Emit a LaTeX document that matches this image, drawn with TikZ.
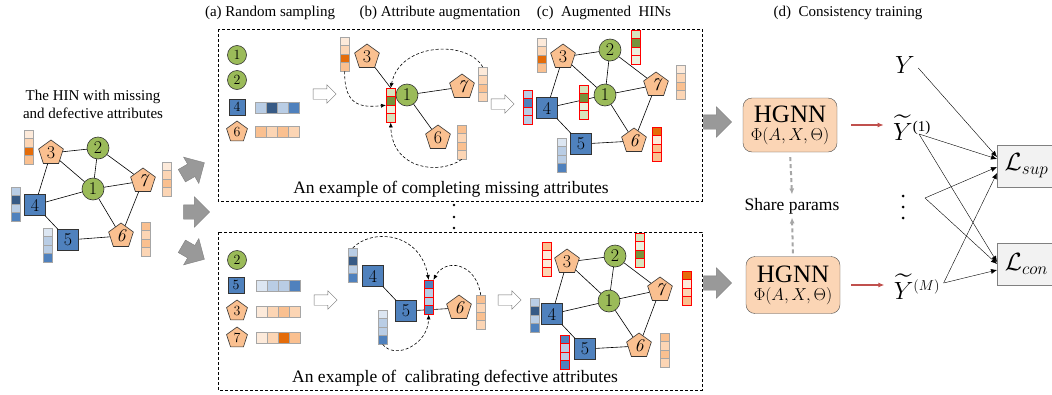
\documentclass[tikz,border=0pt]{standalone}
\usepackage{amssymb,mathtools}
\usepackage{fontspec}
\setmainfont{Liberation Serif}
\newfontfamily\lmfont{Latin Modern Roman}
\usetikzlibrary{shapes.geometric,shapes.arrows,arrows.meta,calc}

\definecolor{ngreen}{HTML}{9BBB59}
\definecolor{nblue}{HTML}{4F81BD}
\definecolor{norange}{HTML}{FAC090}
\definecolor{or1}{HTML}{FDEADA}
\definecolor{or2}{HTML}{FCD5B4}
\definecolor{or3}{HTML}{FAC090}
\definecolor{or4}{HTML}{E46C0A}
\definecolor{bl1}{HTML}{DCE6F2}
\definecolor{bl2}{HTML}{B9CDE5}
\definecolor{bl3}{HTML}{4F81BD}
\definecolor{bl4}{HTML}{375A85}
\definecolor{gr1}{HTML}{EBF1DE}
\definecolor{gr2}{HTML}{D7E4BD}
\definecolor{gr3}{HTML}{77933C}
\definecolor{hgnnfill}{HTML}{FBD5B5}
\definecolor{redarr}{HTML}{C0504D}

% attribute vectors: name, x, y (top left), cell colours, frame style
\newcommand{\attrv}[5]{%
  \foreach \c [count=\i from 0] in {#4}
    \draw[#5, fill=\c] (#2,#3+\i*8.5) rectangle +(9,8.5);
  \node[inner sep=0pt, minimum width=9, minimum height=34, anchor=north west] (#1) at (#2,#3) {};
}
\newcommand{\attrh}[5]{%
  \foreach \c [count=\i from 0] in {#4}
    \draw[#5, fill=\c] (#2+\i*11,#3) rectangle +(11,11);
  \node[inner sep=0pt, minimum width=44, minimum height=11, anchor=north west] (#1) at (#2,#3) {};
}
\newcommand{\supsize}[1]{\mbox{\fontsize{15}{15}\selectfont#1}}

\begin{document}
\begin{tikzpicture}[x=1pt, y=-1pt, >={Latex[length=6pt,width=5pt]},
  hin/.style={draw=black!80, line width=0.6pt, inner sep=0pt, font=\lmfont\fontsize{18}{18}\selectfont},
  gnode/.style={hin, circle, fill=ngreen, minimum size=22},
  bnode/.style={hin, fill=nblue, minimum size=21},
  onode/.style={hin, regular polygon, regular polygon sides=5, fill=norange, minimum size=26},
  lnode/.style={font=\lmfont\fontsize{14}{14}\selectfont},
  gbar/.style={draw=black!35, line width=0.6pt},
  rbar/.style={draw=red, line width=0.6pt},
  edge/.style={line width=0.6pt},
  caption/.style={font=\fontsize{15}{18}\selectfont},
  bigtext/.style={font=\fontsize{17.5}{20}\selectfont},
  fatarrow/.style={single arrow, fill=black!40, draw=black!50, inner sep=7pt, single arrow head extend=8pt, minimum height=26},
  hollow/.style={single arrow, fill=white, draw=black!55, inner sep=5pt, single arrow head extend=4pt, minimum height=23},
  panel/.style={dash pattern=on 3pt off 2pt, line width=0.6pt},
  augm/.style={->, >={Latex[length=5pt,width=4pt]}, dash pattern=on 3pt off 2pt, line width=0.6pt},
  mathbig/.style={font=\fontsize{30}{32}\selectfont},
  hgnn/.style={draw=black!70, fill=hgnnfill, rounded corners=9, minimum width=94, align=center, inner sep=2pt}
]
\useasboundingbox (0,0) rectangle (1052,394);

% the input HIN
\node[caption, align=center] (title) at (93,104) {The HIN with missing\\and defective attributes};
\node[gnode] (a1) at (93,189) {1};
\node[gnode] (a2) at (98,148) {2};
\node[onode] (a3) at (51,153) {3};
\node[bnode] (a4) at (35,205) {4};
\node[bnode] (a5) at (68,240) {5};
\node[onode] (a6) at (121,236) {\itshape 6};
\node[onode] (a7) at (143,181) {\itshape 7};
\foreach \u/\v in {3/2,2/7,2/1,3/1,3/4,1/4,1/7,1/6,7/6,4/5,5/6}
  \draw[edge] (a\u) -- (a\v);
\attrv{la3}{24}{130}{or1,or2,or4,or3}{gbar}
\attrv{la4}{11}{187}{bl2,bl4,bl2,bl3}{gbar}
\attrv{la5}{43}{228}{bl1,bl2,bl2,bl3}{gbar}
\attrv{la7}{162}{162}{or1,or2,or3,or2}{gbar}
\attrv{la6}{141}{222}{or3,or2,or3,or2}{gbar}
\node[fatarrow, rotate=30] (ga1) at (190,171) {};
\node[fatarrow] (ga2) at (193,212) {};
\node[fatarrow, rotate=-30] (ga3) at (190,251) {};

% panels
\node[caption] (laba) at (270,13) {(a) Random sampling};
\node[caption] (labb) at (440,13) {(b) Attribute augmentation};
\node[caption] (labc) at (604,13) {(c)~~Augmented~~HINs};
\node[caption] (labd) at (848,13) {(d)~~Consistency training};
\draw[panel] (218,29) rectangle (702,201);
\draw[panel] (218,232) rectangle (702,390);
\foreach \yy in {205,217,228}
  \fill (454,\yy) circle[radius=1.3];

% top: completing missing attributes
\node[gnode, lnode, minimum size=19] (p1) at (237,55) {1};
\node[gnode, lnode, minimum size=19] (p2) at (237,80) {2};
\node[bnode, lnode, minimum size=16] (p4) at (237,107) {4};
\node[onode, lnode, minimum size=22] (p6) at (237,132) {6};
\attrh{ph4}{255}{102}{bl2,bl4,bl2,bl3}{gbar}
\attrh{ph6}{255}{126}{or3,or2,or3,or2}{gbar}
\node[hollow] (ha1) at (322,94) {};

\node[onode] (b3) at (367,57) {3};
\node[gnode] (b1) at (407,95) {1};
\node[onode] (b7) at (462,87) {\itshape 7};
\node[onode] (b6) at (438,138) {6};
\attrv{br1}{386}{88}{gr2,gr3,gr1,gr2}{rbar}
\draw[edge] (b3) -- (br1.north);
\draw[edge] (b1) -- (b7);
\draw[edge] (b1) -- (b6);
\attrv{bb3}{340}{37}{or1,or2,or4,or3}{gbar}
\attrv{bb7}{478}{67}{or1,or2,or3,or2}{gbar}
\attrv{bb6}{457}{125}{or3,or2,or3,or2}{gbar}
\draw[augm] (bb3.south) .. controls (344,105) and (360,108) .. (br1.west);
\draw[augm] (bb7.north) .. controls (468,40) and (400,42) .. (br1.north);
\draw[augm] (bb6.south) .. controls (440,175) and (392,170) .. (br1.south);
\node[hollow] (ha2) at (500,104) {};

\node[onode] (c3) at (563,57) {3};
\node[gnode] (c2) at (610,50) {2};
\node[gnode] (c1) at (605,95) {1};
\node[onode] (c7) at (656,85) {\itshape 7};
\node[bnode] (c4) at (547,108) {4};
\node[bnode] (c5) at (581,144) {5};
\node[onode] (c6) at (634,141) {\itshape 6};
\foreach \u/\v in {3/2,2/7,2/1,3/1,3/4,1/4,1/7,1/6,7/6,4/5,5/6}
  \draw[edge] (c\u) -- (c\v);
\attrv{cb3}{537}{38}{or1,or2,or4,or3}{gbar}
\attrv{cr2}{631}{30}{gr2,gr3,gr1,gr1}{rbar}
\attrv{cb7}{676}{65}{or1,or2,or3,or2}{gbar}
\attrv{cr4}{523}{90}{bl2,bl3,bl2,bl2}{rbar}
\attrv{cr1}{579}{85}{gr2,gr3,gr1,gr2}{rbar}
\attrv{cb5}{557}{138}{bl1,bl2,bl2,bl3}{gbar}
\attrv{cr6}{652}{127}{or4,or1,or3,or3}{rbar}
\node[bigtext] (ex1) at (451,189) {An example of completing missing attributes};

% bottom: calibrating defective attributes
\node[gnode, lnode, minimum size=19] (q2) at (237,260) {2};
\node[bnode, lnode, minimum size=16] (q5) at (236,285) {5};
\node[onode, lnode, minimum size=22] (q3) at (237,311) {3};
\node[onode, lnode, minimum size=22] (q7) at (237,338) {7};
\attrh{qh5}{256}{280}{bl1,bl2,bl2,bl3}{gbar}
\attrh{qh3}{256}{306}{or1,or2,or3,or2}{gbar}
\attrh{qh7}{256}{332}{or1,or2,or4,or3}{gbar}
\node[hollow] (ha3) at (323,300) {};

\node[bnode] (d4) at (373,276) {4};
\node[bnode] (d5) at (406,311) {5};
\node[onode] (d6) at (459,308) {\itshape 6};
\draw[edge] (d4) -- (d5);
\draw[edge] (d5) -- (d6);
\attrv{db4}{348}{248}{bl2,bl4,bl2,bl3}{gbar}
\attrv{dr5}{424}{280}{bl3,bl2,bl2,bl3}{rbar}
\attrv{db6}{476}{295}{or3,or2,or3,or2}{gbar}
\attrv{db5}{378}{310}{bl1,bl2,bl2,bl3}{gbar}
\draw[augm] (db4.north) .. controls (372,228) and (420,232) .. (dr5.north);
\draw[augm] (db6.north) .. controls (476,262) and (445,258) .. (dr5.north east);
\draw[augm] (db5.south) .. controls (395,360) and (428,345) .. (dr5.south);
\node[hollow] (ha4) at (507,300) {};

\node[onode] (e3) at (567,262) {3};
\node[gnode] (e2) at (615,256) {2};
\node[gnode] (e1) at (609,301) {1};
\node[onode] (e7) at (660,290) {\itshape 7};
\node[bnode] (e4) at (552,314) {4};
\node[bnode] (e5) at (585,349) {5};
\node[onode] (e6) at (639,346) {\itshape 6};
\foreach \u/\v in {3/2,2/7,2/1,3/1,3/4,1/4,1/7,1/6,7/6,4/5,5/6}
  \draw[edge] (e\u) -- (e\v);
\attrv{er3}{542}{242}{or3,or1,or1,or2}{rbar}
\attrv{er2}{635}{233}{gr2,gr1,gr3,gr2}{rbar}
\attrv{er7}{682}{271}{or4,or1,or2,or3}{rbar}
\attrv{eb4}{530}{298}{bl2,bl4,bl2,bl3}{gbar}
\attrv{er5}{560}{335}{bl3,bl2,bl2,bl3}{rbar}
\attrv{eb6}{660}{333}{or3,or2,or3,or2}{gbar}
\node[bigtext] (ex2) at (455,378) {An example of~~calibrating defective attributes};

% consistency training
\node[fatarrow, minimum height=28] (fa1) at (714,122) {};
\node[fatarrow, minimum height=28] (fa2) at (714,283) {};
\node[hgnn, minimum height=54] (h1) at (790,125)
  {{\fontsize{25}{26}\selectfont HGNN}\\[4pt]{\fontsize{16}{18}\selectfont$\Phi(A,X,\Theta)$}};
\node[hgnn, minimum height=57] (h2) at (793,285)
  {{\fontsize{25}{26}\selectfont HGNN}\\[4pt]{\fontsize{16}{18}\selectfont$\Phi(A,X,\Theta)$}};
\node[bigtext] (share) at (792,206) {Share params};
\draw[->, black!35, line width=2pt, dash pattern=on 4pt off 3pt, shorten <=5pt] (h1.south) -- (share.north);
\draw[->, black!35, line width=2pt, dash pattern=on 4pt off 3pt, shorten <=3pt] (h2.north) -- (share.south);

\node[mathbig] (y0) at (905,65) {$Y$};
\node[mathbig] (y1) at (912,128) {$\widetilde{Y}^{\supsize{(1)}}$};
\coordinate (yd) at (903,207);
\foreach \dy in {-11,0,11}
  \fill ($(yd)+(0,\dy)$) circle[radius=1.5];
\node[mathbig] (ym) at (917,287) {$\widetilde{Y}^{\supsize{$(M)$}}$};
\draw[->, redarr, line width=1.5pt, shorten <=14pt, shorten >=6pt] (h1.east) -- (h1.east -| y1.west);
\draw[->, redarr, line width=1.5pt, shorten <=11pt, shorten >=6pt] (h2.east) -- (h2.east -| ym.west);

\node[draw=black!50, fill=black!5, line width=1pt, minimum width=58, minimum height=42, anchor=west, font=\fontsize{26}{28}\selectfont] (lsup) at (997,166) {$\mathcal{L}_{sup}$};
\node[draw=black!50, fill=black!5, line width=1pt, minimum width=58, minimum height=42, anchor=west, font=\fontsize{26}{28}\selectfont] (lcon) at (997,264) {$\mathcal{L}_{con}$};
\draw[->] ($(y0.east)+(0,3)$) -- ($(lsup.west)+(0,-9)$);
\draw[->] ($(y1.center)+(7,6)$) -- ($(lsup.west)+(0,-7)$);
\draw[->] ($(y1.center)+(7,6)$) -- ($(lcon.west)+(0,-2)$);
\draw[->] ($(yd)+(22,-9)$) -- ($(lsup.west)+(0,1)$);
\draw[->] ($(yd)+(22,-9)$) -- ($(lcon.west)+(0,0)$);
\draw[->] ($(ym.east)+(0,-4)$) -- ($(lsup.west)+(0,7)$);
\draw[->] ($(ym.east)+(0,-4)$) -- ($(lcon.west)+(0,6)$);
\end{tikzpicture}
\end{document}
